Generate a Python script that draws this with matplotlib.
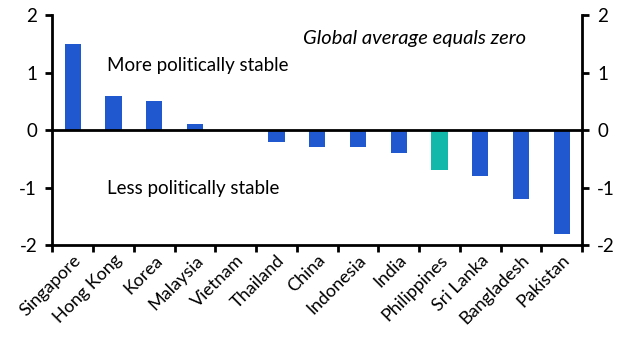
import numpy as np
import matplotlib.pyplot as plt

plt.rcParams['font.family'] = ['Lato', 'DejaVu Sans']

countries = ["Singapore", "Hong Kong", "Korea", "Malaysia", "Vietnam", "Thailand",
             "China", "Indonesia", "India", "Philippines", "Sri Lanka", "Bangladesh", "Pakistan"]
scores = [1.5, 0.6, 0.5, 0.1, 0.0, -0.2, -0.3, -0.3, -0.4, -0.7, -0.8, -1.2, -1.8]
highlight = "Philippines"

blue = "#2059cf"
teal = "#12b8a9"
colors = [teal if c == highlight else blue for c in countries]

fig = plt.figure(figsize=(6.32, 3.6), dpi=100)
ax = fig.add_axes([0.083, 0.319, 0.838, 0.639])

x = np.arange(len(countries))
ax.bar(x, scores, width=0.4, color=colors, zorder=2)
ax.axhline(0, color="black", lw=2, zorder=3)

ax.set_xlim(-0.5, len(countries) - 0.5)
ax.set_ylim(-2, 2)
ax.set_yticks([-2, -1, 0, 1, 2])
ax.set_yticklabels(["-2", "-1", "0", "1", "2"])

# ticks sit between categories, labels under the bars
ax.set_xticks(np.arange(-0.5, len(countries), 1.0))
ax.set_xticklabels([])
ax.set_xticks(x, minor=True)
ax.set_xticklabels(countries, minor=True, rotation=45, ha="right",
                   rotation_mode="anchor", fontsize=13)
ax.tick_params(axis="x", which="minor", length=0, pad=5)
ax.tick_params(axis="x", which="major", length=5, width=2, direction="out")
ax.tick_params(axis="y", length=5, width=2, labelsize=13.5, left=True, right=True,
               labelleft=True, labelright=True, pad=6)

for side in ["left", "right", "bottom"]:
    ax.spines[side].set_linewidth(2)
ax.spines["top"].set_visible(False)

ax.text(0.85, 1.12, "More politically stable", fontsize=13.5, va="center", ha="left")
ax.text(0.85, -1.02, "Less politically stable", fontsize=13.5, va="center", ha="left")
ax.text(5.65, 1.6, "Global average equals zero", fontsize=14.5, style="italic",
        va="center", ha="left")

fig.savefig("out.png", dpi=100)
